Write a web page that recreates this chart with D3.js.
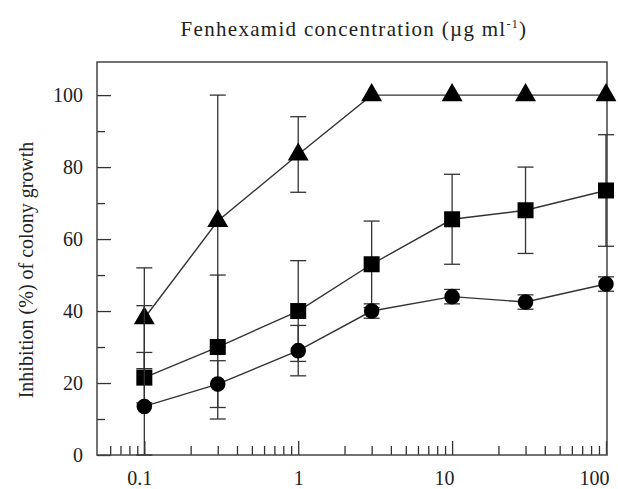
<!DOCTYPE html>
<html>
<head>
<meta charset="utf-8">
<script src="https://cdn.jsdelivr.net/npm/d3@7"></script>
<style>
  body { margin: 0; background: #fff; }
  svg text { font-family: "Liberation Serif", "DejaVu Serif", serif; fill: #222; }
</style>
</head>
<body>
<svg id="chart" width="618" height="489"></svg>
<script>
// concentrations (ug/ml) and the three series
var conc = [0.1, 0.3, 1, 3, 10, 30, 100];
var triMean = [38, 65, 83.5, 100, 100, 100, 100];
var triErr = [14, 35, 10.5, 0, 0, 0, 0];
var sqMean = [21.5, 30, 40, 53, 65.5, 68, 73.5];
var sqErr = [7, 20, 14, 12, 12.5, 12, 15.5];
var circMean = [13.5, 19.7, 29, 40, 44, 42.5, 47.5];
var circErr = [28, 6.5, 7, 2, 2, 2, 2];

var xMajor = [0.1, 1, 10, 100];
var xMinor = [0.06, 0.07, 0.08, 0.09, 0.2, 0.3, 0.4, 0.5, 0.6, 0.7, 0.8, 0.9,
              2, 3, 4, 5, 6, 7, 8, 9, 20, 30, 40, 50, 60, 70, 80, 90];
var yMajor = [0, 20, 40, 60, 80, 100];
var yMinor = [10, 30, 50, 70, 90];

// plot box (note: "top" is taken by window.top, so prefix these)
var boxL = 97, boxR = 607, boxT = 62, boxB = 455;

var svg = d3.select("#chart");

var x = d3.scaleLog().domain([0.05, 100]).range([98, 606]);
var y = d3.scaleLinear().domain([0, 109.2]).range([boxB, boxT]);

// axes, ticks pointing inward
function tidy(g) {
    g.select(".domain").remove();
    g.selectAll("line").attr("stroke", "#333").attr("stroke-width", 1.3);
    g.selectAll("text").style("font-size", "20px").attr("fill", "#222");
}

var xAxisG = svg.append("g")
    .attr("transform", "translate(0," + boxB + ")")
    .call(d3.axisBottom(x).tickValues(xMajor).tickSize(-14).tickPadding(16)
        .tickFormat(d3.format("")))
    .call(tidy);
// labels in the scan sit a little left of their ticks
xAxisG.selectAll(".tick text")
    .attr("dx", function(d) { return d === 0.1 ? -5 : d === 10 ? -8 : 0; })
    .attr("text-anchor", function(d) { return d === 100 ? "end" : "middle"; })
    .attr("x", function(d) { return d === 100 ? 3 : 0; });

svg.append("g")
    .attr("transform", "translate(0," + boxB + ")")
    .call(d3.axisBottom(x).tickValues(xMinor).tickSize(-9).tickFormat(""))
    .call(tidy);

svg.append("g")
    .attr("transform", "translate(" + boxL + ",0)")
    .call(d3.axisLeft(y).tickValues(yMajor).tickSize(-14).tickPadding(14))
    .call(tidy);
svg.append("g")
    .attr("transform", "translate(" + boxL + ",0)")
    .call(d3.axisLeft(y).tickValues(yMinor).tickSize(-8).tickFormat(""))
    .call(tidy);

svg.append("rect")
    .attr("x", boxL).attr("y", boxT)
    .attr("width", boxR - boxL).attr("height", boxB - boxT)
    .attr("fill", "none").attr("stroke", "#444").attr("stroke-width", 1.5);

// title and y label
var title = svg.append("text")
    .attr("x", 354).attr("y", 36)
    .attr("text-anchor", "middle")
    .style("font-size", "21px")
    .style("letter-spacing", "1.3px");
title.append("tspan").text("Fenhexamid concentration (\u00b5g ml");
title.append("tspan").attr("dy", -8).style("font-size", "12px").text("-1");
title.append("tspan").attr("dy", 8).text(")");

svg.append("text")
    .attr("transform", "translate(33,270) rotate(-90)")
    .attr("text-anchor", "middle")
    .style("font-size", "20px")
    .text("Inhibition (%) of colony growth");

var series = [
    { mean: triMean, err: triErr, shape: d3.symbolTriangle, size: 190 },
    { mean: sqMean, err: sqErr, shape: d3.symbolSquare, size: 256 },
    { mean: circMean, err: circErr, shape: d3.symbolCircle, size: 190 }
];

var line = d3.line()
    .x(function(d) { return x(d.c); })
    .y(function(d) { return y(d.m); });

series.forEach(function(s) {
    var pts = conc.map(function(c, i) { return { c: c, m: s.mean[i], e: s.err[i] }; });
    var g = svg.append("g");

    pts.filter(function(d) { return d.e > 0; }).forEach(function(d) {
        var lo = Math.max(0, d.m - d.e), hi = d.m + d.e;
        var cx = x(d.c);
        g.append("line").attr("x1", cx).attr("x2", cx)
            .attr("y1", y(lo)).attr("y2", y(hi))
            .attr("stroke", "#333").attr("stroke-width", 1.3);
        [lo, hi].forEach(function(v) {
            g.append("line").attr("x1", cx - 8).attr("x2", cx + 8)
                .attr("y1", y(v)).attr("y2", y(v))
                .attr("stroke", "#333").attr("stroke-width", 1.3);
        });
    });

    g.append("path")
        .datum(pts)
        .attr("d", line)
        .attr("fill", "none")
        .attr("stroke", "#333")
        .attr("stroke-width", 1.4);

    g.selectAll(".pt")
        .data(pts)
        .enter()
        .append("path")
        .attr("class", "pt")
        .attr("transform", function(d) { return "translate(" + x(d.c) + "," + y(d.m) + ")"; })
        .attr("d", d3.symbol().type(s.shape).size(s.size))
        .attr("fill", "#000");
});
</script>
</body>
</html>
